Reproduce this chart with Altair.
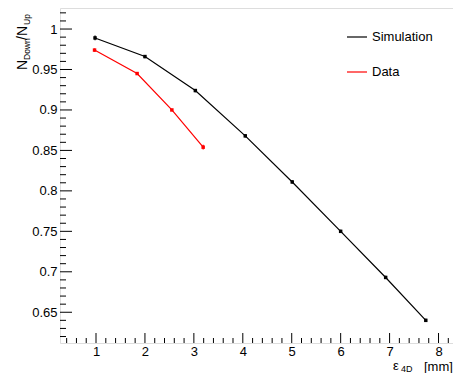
import altair as alt
import pandas as pd

# ---- data ----
sim_x = [0.98, 2.00, 3.03, 4.05, 5.01, 6.00, 6.92, 7.74]
sim_y = [0.989, 0.966, 0.924, 0.868, 0.811, 0.750, 0.693, 0.640]
sim_err = [0.003, 0.002, 0.002, 0.002, 0.002, 0.002, 0.002, 0.002]

data_x = [0.97, 1.84, 2.55, 3.19]
data_y = [0.974, 0.945, 0.900, 0.854]
data_err = [0.002, 0.001, 0.001, 0.003]

series_names = ["Simulation", "Data"]
series_colors = ["#000000", "#ff0000"]

x_major = [1, 2, 3, 4, 5, 6, 7, 8]
y_major = [0.65, 0.7, 0.75, 0.8, 0.85, 0.9, 0.95, 1.0]
x_minor = [0.4, 0.6, 0.8, 1.2, 1.4, 1.6, 1.8, 2.2, 2.4, 2.6, 2.8, 3.2, 3.4, 3.6, 3.8,
           4.2, 4.4, 4.6, 4.8, 5.2, 5.4, 5.6, 5.8, 6.2, 6.4, 6.6, 6.8, 7.2, 7.4, 7.6,
           7.8, 8.2]
y_minor = [0.62, 0.63, 0.64, 0.66, 0.67, 0.68, 0.69, 0.71, 0.72, 0.73, 0.74,
           0.76, 0.77, 0.78, 0.79, 0.81, 0.82, 0.83, 0.84, 0.86, 0.87, 0.88, 0.89,
           0.91, 0.92, 0.93, 0.94, 0.96, 0.97, 0.98, 0.99, 1.01, 1.02]

W, H = 393, 335
FONT = "Liberation Sans"

rows = []
for xv, yv, ev in zip(sim_x, sim_y, sim_err):
    rows.append({"series": "Simulation", "x": xv, "y": yv, "lo": yv - ev, "hi": yv + ev})
for xv, yv, ev in zip(data_x, data_y, data_err):
    rows.append({"series": "Data", "x": xv, "y": yv, "lo": yv - ev, "hi": yv + ev})
df = pd.DataFrame(rows)

xs = alt.Scale(domain=[0.264, 8.296], nice=False, zero=False)
ys = alt.Scale(domain=[0.612, 1.026], nice=False, zero=False)

xaxis = alt.Axis(values=x_major, ticks=False, domain=False, grid=False, title=None,
                 labelFontSize=13, labelFont=FONT, labelColor="black", labelPadding=2)
yaxis = alt.Axis(values=y_major, ticks=False, domain=False, grid=False, title=None,
                 labelFontSize=13, labelFont=FONT, labelColor="black", labelPadding=3,
                 format="~g")

color = alt.Color("series:N",
                  scale=alt.Scale(domain=series_names, range=series_colors),
                  legend=alt.Legend(orient="none", legendX=286, legendY=18, title=None,
                                    symbolType="stroke", symbolSize=400, symbolStrokeWidth=1.2,
                                    labelFontSize=13, labelFont=FONT, labelColor="black",
                                    labelOffset=4, rowPadding=17))

base = alt.Chart(df)

lines = base.mark_line(strokeWidth=1.2).encode(
    x=alt.X("x:Q", scale=xs, axis=xaxis),
    y=alt.Y("y:Q", scale=ys, axis=yaxis),
    color=color,
    detail="series:N",
)
errs = base.mark_rule(strokeWidth=1.2).encode(
    x=alt.X("x:Q", scale=xs, axis=xaxis),
    y=alt.Y("lo:Q", scale=ys, axis=yaxis),
    y2="hi:Q",
    color=color,
)
pts = base.mark_point(shape="square", filled=True, size=12, opacity=1).encode(
    x=alt.X("x:Q", scale=xs, axis=xaxis),
    y=alt.Y("y:Q", scale=ys, axis=yaxis),
    color=color,
)

# inward tick marks
def xticks(vals, length):
    return alt.Chart(pd.DataFrame({"v": vals})).mark_rule(color="black", strokeWidth=1).encode(
        x=alt.X("v:Q", scale=xs, axis=xaxis),
        y=alt.value(H), y2=alt.value(H - length))

def yticks(vals, length):
    return alt.Chart(pd.DataFrame({"v": vals})).mark_rule(color="black", strokeWidth=1).encode(
        y=alt.Y("v:Q", scale=ys, axis=yaxis),
        x=alt.value(0), x2=alt.value(length))

def label(txt, x, y, size, angle=0):
    return alt.Chart(pd.DataFrame({"t": [txt]})).mark_text(
        font=FONT, fontSize=size, align="left", baseline="alphabetic", angle=angle, color="black"
    ).encode(text="t:N", x=alt.value(x), y=alt.value(y))

titles = [
    label("N", -33, 62, 14, 270),
    label("Down", -30, 52, 8.5, 270),
    label("/N", -33, 32, 14, 270),
    label("Up", -30, 17, 8.5, 270),
    label("ε", 333, 362, 13),
    label("4D", 341, 364, 9),
    label("[mm]", 364, 363, 13),
]

chart = alt.layer(
    xticks(x_major, 10), xticks(x_minor, 5), yticks(y_major, 12), yticks(y_minor, 6),
    lines, errs, pts, *titles
).properties(
    width=W, height=H,
    autosize=alt.AutoSizeParams(type="none"),
    padding={"left": 52, "top": 0, "right": 0, "bottom": 30},
).configure_view(stroke="black", strokeWidth=1).configure(background="white")

chart.save("out.html", embed_options={"renderer": "svg", "actions": False})
